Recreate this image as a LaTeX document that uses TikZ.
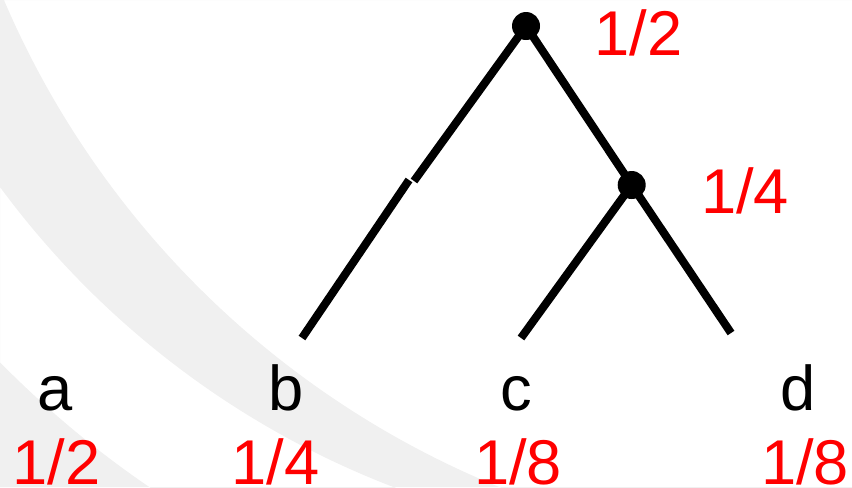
\documentclass[tikz,border=0pt]{standalone}
\usepackage{fontspec}
\setmainfont{Liberation Sans}
\usepackage{tikz}
\definecolor{wmgray}{HTML}{F0F0F0}
\definecolor{fracred}{HTML}{FF0000}
\tikzset{
  every picture/.style={line join=round},
  branch/.style={line width=2.3pt, line cap=butt},
  dot/.style={circle, fill=black, inner sep=0pt, minimum size=0.28cm},
  leaf/.style={anchor=base, inner sep=0pt, font={\fontsize{18}{20}\selectfont}},
  weight/.style={leaf, text=fracred},
}

\begin{document}
\begin{tikzpicture}
\useasboundingbox (0,0) rectangle (8.520,4.870);
\begin{scope}
\clip (0,0) rectangle (8.520,4.870);
\fill[wmgray, even odd rule] (0,0) rectangle (8.520,4.870)
  (7.080,8.210) circle[radius=9.930]
  (7.080,8.210) circle[radius=8.790]
  (8.430,8.450) circle[radius=9.120];
\end{scope}
\node[dot] (root) at (5.260,4.610) {};
\node[dot] (mid) at (6.317,3.020) {};
\coordinate (bup) at (4.140,3.060);
\coordinate (blo) at (4.090,3.070);
\coordinate (bend) at (3.020,1.490);
\coordinate (cend) at (5.210,1.490);
\coordinate (dend) at (7.310,1.540);
\draw[branch] (root.center) -- (bup);
\draw[branch] (blo) -- (bend);
\draw[branch] (root.center) -- (mid.center);
\draw[branch] (mid.center) -- (cend);
\draw[branch] (mid.center) -- (dend);
\node[leaf] (la) at (0.550,0.770) {a};
\node[leaf] (lb) at (2.860,0.770) {b};
\node[leaf] (lc) at (5.160,0.770) {c};
\node[leaf] (ld) at (7.980,0.770) {d};
\node[weight] (wa) at (0.565,0.025) {1/2};
\node[weight] (wb) at (2.755,0.025) {1/4};
\node[weight] (wc) at (5.180,0.025) {1/8};
\node[weight] (wd) at (8.050,0.025) {1/8};
\node[weight] (wroot) at (6.385,4.320) {1/2};
\node[weight] (wmid) at (7.450,2.740) {1/4};
\end{tikzpicture}
\end{document}
